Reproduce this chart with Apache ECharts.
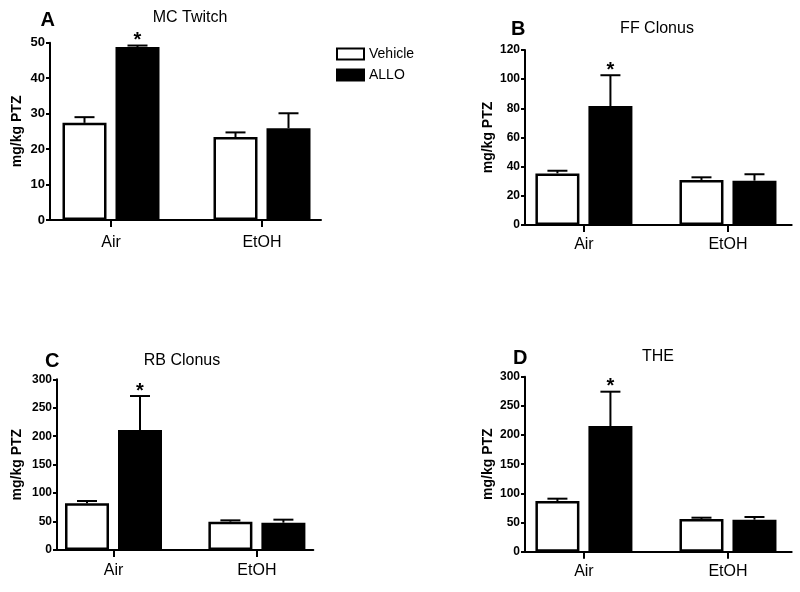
<!DOCTYPE html>
<html>
<head>
<meta charset="utf-8">
<script src="https://cdn.jsdelivr.net/npm/echarts@6/dist/echarts.min.js"></script>
<style>html,body{margin:0;padding:0;background:#fff}#c{width:800px;height:592px}</style>
</head>
<body>
<div id="c"></div>
<script>
// ---------- data ----------
const categories = ['Air', 'EtOH'];
const seriesNames = ['Vehicle', 'ALLO'];
const yLabel = 'mg/kg PTZ';

const panelLetters = ['A', 'B', 'C', 'D'];
const panelTitles = ['MC Twitch', 'FF Clonus', 'RB Clonus', 'THE'];

// A: MC Twitch
const vehicleA = [27.4, 23.4];
const vehicleErrA = [1.6, 1.3];
const alloA = [48.8, 25.9];
const alloErrA = [0.4, 4.2];
// B: FF Clonus
const vehicleB = [35.4, 30.9];
const vehicleErrB = [1.8, 1.8];
const alloB = [81.6, 30.4];
const alloErrB = [21.1, 4.4];
// C: RB Clonus
const vehicleC = [82.1, 49.8];
const vehicleErrC = [4.0, 2.3];
const alloC = [210.9, 48.0];
const alloErrC = [59.7, 5.3];
// D: THE
const vehicleD = [86.9, 56.0];
const vehicleErrD = [4.0, 2.3];
const alloD = [215.5, 54.9];
const alloErrD = [58.8, 4.6];

// significance markers (ALLO vs Vehicle)
const sigA = ['*', ''];
const sigB = ['*', ''];
const sigC = ['*', ''];
const sigD = ['*', ''];

// y axis ticks
const yMaxA = 50, yStepA = 10;
const yMaxB = 120, yStepB = 20;
const yMaxC = 300, yStepC = 50;
const yMaxD = 300, yStepD = 50;

// ---------- layout / style ----------
const FONT = 'Liberation Sans, Arial, Helvetica, sans-serif';
const panels = [
  {veh: vehicleA, vehErr: vehicleErrA, allo: alloA, alloErr: alloErrA, sig: sigA, yMax: yMaxA, yStep: yStepA,
   fL: 50, fW: 271, top: 42.7, h: 177.3, bL: 35.5, bW: 302, lab: 13, catM: 15, nameGap: 26,
   tX: 190, tY: 10, lX: 40.6, lY: 10},
  {veh: vehicleB, vehErr: vehicleErrB, allo: alloB, alloErr: alloErrB, sig: sigB, yMax: yMaxB, yStep: yStepB,
   fL: 525, fW: 266.7, top: 50, h: 175, bL: 511.9, bW: 295.2, lab: 12, catM: 12, nameGap: 30,
   tX: 657, tY: 21, lX: 511, lY: 19},
  {veh: vehicleC, vehErr: vehicleErrC, allo: alloC, alloErr: alloErrC, sig: sigC, yMax: yMaxC, yStep: yStepC,
   fL: 57, fW: 256.3, top: 379.3, h: 170.7, bL: 41.8, bW: 286.8, lab: 12, catM: 13, nameGap: 33,
   tX: 182, tY: 353, lX: 45, lY: 351.5},
  {veh: vehicleD, vehErr: vehicleErrD, allo: alloD, alloErr: alloErrD, sig: sigD, yMax: yMaxD, yStep: yStepD,
   fL: 525, fW: 266.7, top: 376.7, h: 175, bL: 511.9, bW: 295.2, lab: 12, catM: 12, nameGap: 30,
   tX: 658, tY: 348.7, lX: 513, lY: 348}
];

const BAR_W = 44, BAR_GAP = 9;
const OFF = (BAR_W + BAR_GAP) / 2;
const CAP = 10;

const grid = [], xAxis = [], yAxis = [], series = [], title = [];

function errSeries(xi, vals, errs, offset, marks) {
  return {
    type: 'custom', xAxisIndex: xi, yAxisIndex: xi, z: 10, silent: true,
    data: vals.map((v, i) => [i, v, errs[i]]),
    renderItem(params, api) {
      const i = api.value(0), v = api.value(1), e = api.value(2);
      const p0 = api.coord([i, v]);
      const p1 = api.coord([i, v + e]);
      const cx = p0[0] + offset;
      const ch = [
        {type: 'line', shape: {x1: cx, y1: p0[1], x2: cx, y2: p1[1]}, style: {stroke: '#000', lineWidth: 2}},
        {type: 'line', shape: {x1: cx - CAP, y1: p1[1], x2: cx + CAP, y2: p1[1]}, style: {stroke: '#000', lineWidth: 2}}
      ];
      const m = marks && marks[params.dataIndex];
      if (m) {
        ch.push({type: 'text', x: cx, y: p1[1] - 5,
          style: {text: m, fontSize: 20, fontWeight: 'bold', fontFamily: FONT, fill: '#000', align: 'center', verticalAlign: 'middle'}});
      }
      return {type: 'group', children: ch};
    }
  };
}

panels.forEach((p, k) => {
  const fi = grid.length;
  // frame grid (visible axes)
  grid.push({left: p.fL, width: p.fW, top: p.top, height: p.h, containLabel: false});
  xAxis.push({gridIndex: fi, type: 'value', min: 0, max: 1,
    axisLine: {show: true, lineStyle: {color: '#000', width: 2}},
    axisTick: {show: false}, axisLabel: {show: false}, splitLine: {show: false}});
  yAxis.push({gridIndex: fi, type: 'value', min: 0, max: p.yMax, interval: p.yStep,
    name: yLabel, nameLocation: 'middle', nameGap: p.nameGap,
    nameTextStyle: {fontFamily: FONT, fontWeight: 'bold', fontSize: 14, color: '#000'},
    axisLine: {show: true, lineStyle: {color: '#000', width: 2}},
    axisTick: {show: true, inside: false, length: 4, lineStyle: {color: '#000', width: 2}},
    axisLabel: {fontFamily: FONT, fontWeight: 'bold', fontSize: p.lab, color: '#000', margin: 5},
    splitLine: {show: false}});
  // bar grid (category placement)
  const bi = grid.length;
  grid.push({left: p.bL, width: p.bW, top: p.top, height: p.h, containLabel: false});
  xAxis.push({gridIndex: bi, type: 'category', data: categories,
    axisLine: {show: false},
    axisTick: {show: true, alignWithLabel: true, length: 7, lineStyle: {color: '#000', width: 2}},
    axisLabel: {fontFamily: FONT, fontSize: 16, color: '#000', margin: p.catM},
    splitLine: {show: false}});
  yAxis.push({gridIndex: bi, type: 'value', min: 0, max: p.yMax, interval: p.yStep, show: false, splitLine: {show: false}});

  series.push({name: seriesNames[0], type: 'bar', xAxisIndex: bi, yAxisIndex: bi, data: p.veh,
    barWidth: BAR_W, barGap: (BAR_GAP / BAR_W * 100) + '%',
    itemStyle: {color: '#fff', borderColor: '#000', borderWidth: 2.5}});
  series.push({name: seriesNames[1], type: 'bar', xAxisIndex: bi, yAxisIndex: bi, data: p.allo,
    barWidth: BAR_W, barGap: (BAR_GAP / BAR_W * 100) + '%',
    itemStyle: {color: '#000', borderColor: '#000', borderWidth: 2}});
  series.push(errSeries(bi, p.veh, p.vehErr, -OFF, null));
  series.push(errSeries(bi, p.allo, p.alloErr, OFF, p.sig));

  title.push({text: panelTitles[k], left: p.tX, top: p.tY, textAlign: 'center', padding: 0,
    textStyle: {fontFamily: FONT, fontSize: 16, fontWeight: 'normal', color: '#000'}});
  title.push({text: panelLetters[k], left: p.lX, top: p.lY, padding: 0,
    textStyle: {fontFamily: FONT, fontSize: 20, fontWeight: 'bold', color: '#000'}});
});

const chart = echarts.init(document.getElementById('c'), null, {renderer: 'canvas'});
chart.setOption({
  animation: false,
  backgroundColor: '#fff',
  title: title,
  legend: {
    orient: 'vertical', left: 336, top: 47, itemWidth: 27, itemHeight: 11, itemGap: 7, padding: 0,
    selectedMode: false,
    textStyle: {fontFamily: FONT, fontSize: 14, color: '#000'},
    data: [
      {name: 'Vehicle', icon: 'rect', itemStyle: {color: '#fff', borderColor: '#000', borderWidth: 2}},
      {name: 'ALLO', icon: 'rect', itemStyle: {color: '#000', borderColor: '#000', borderWidth: 2}}
    ]
  },
  grid: grid, xAxis: xAxis, yAxis: yAxis, series: series
});
</script>
</body>
</html>
